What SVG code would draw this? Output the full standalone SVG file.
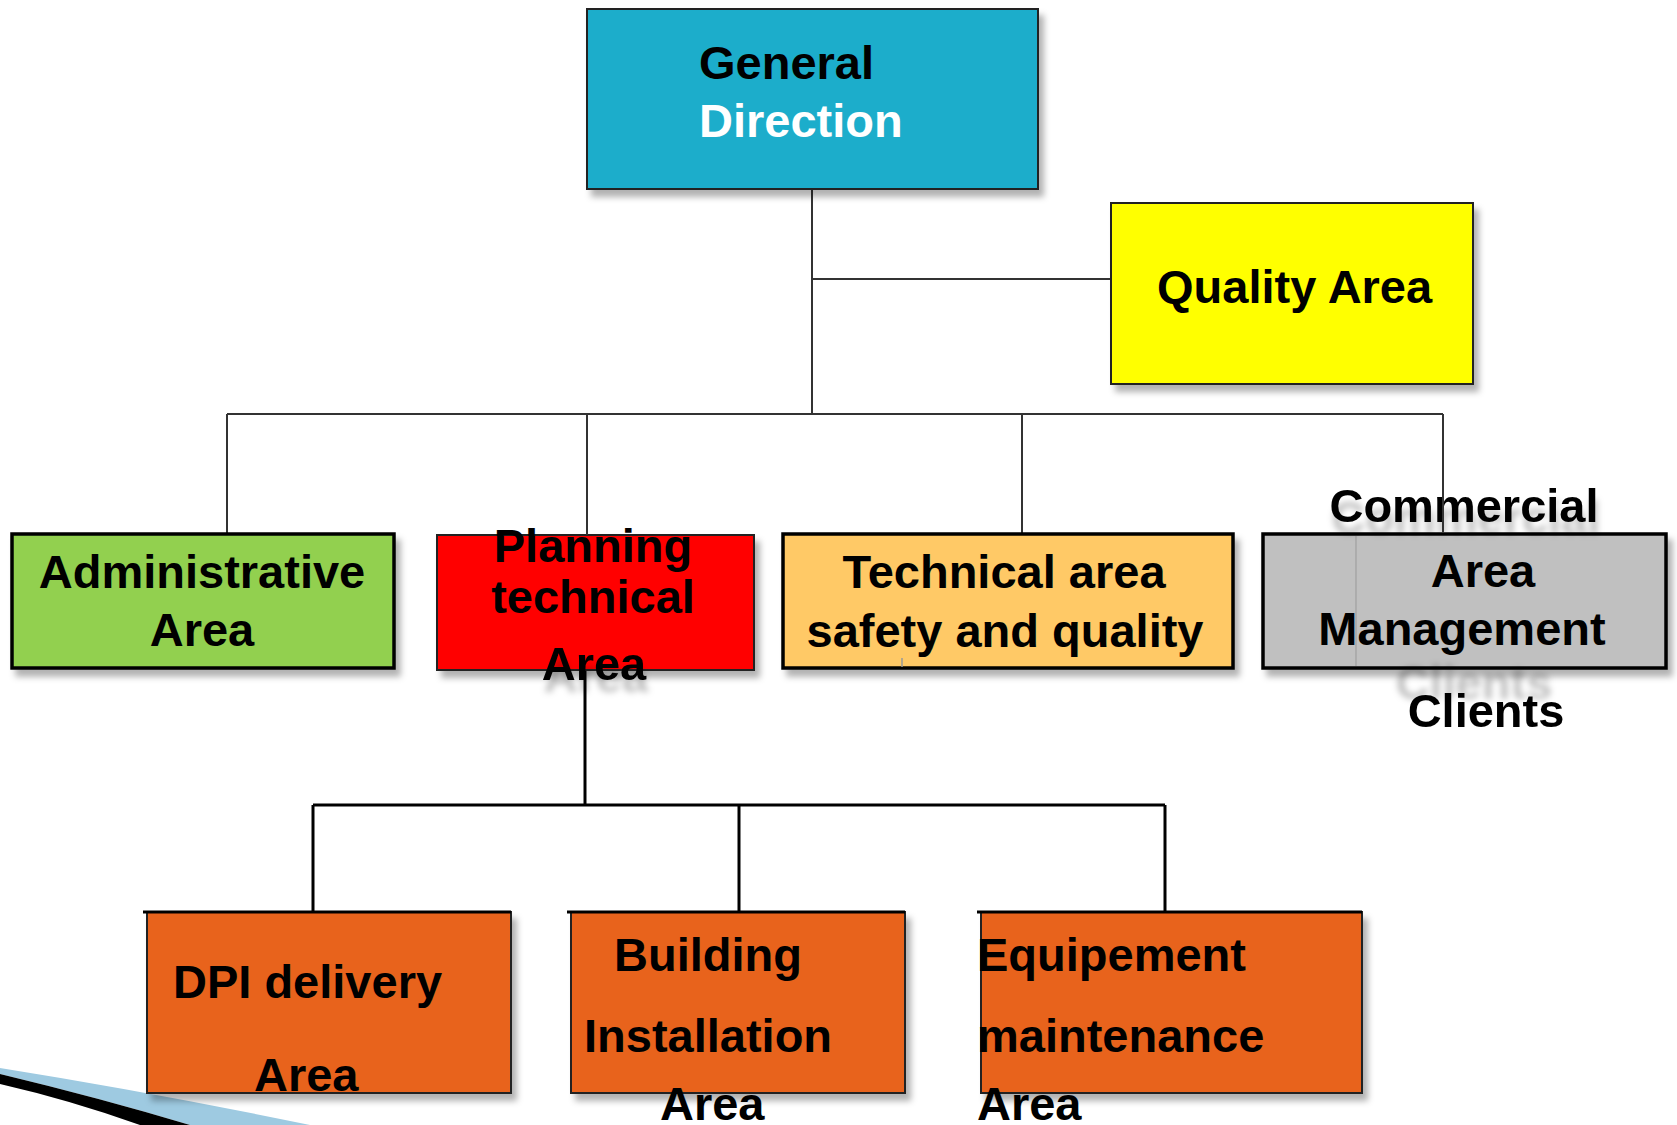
<svg xmlns="http://www.w3.org/2000/svg" width="1677" height="1125" viewBox="0 0 1677 1125">
<style>
.t{font-family:"Liberation Sans",Arial,sans-serif;font-weight:bold;font-size:47px;fill:#000}
.m{text-anchor:middle}
.w{fill:#fff}
.box{stroke:#222;stroke-width:2}
.thick{stroke:#000;stroke-width:3.5}
.ln{stroke:#333;stroke-width:2;fill:none}
.ln2{stroke:#000;stroke-width:3;fill:none}
</style>
<defs>
<filter id="sh" x="-10%" y="-10%" width="130%" height="130%">
<feDropShadow dx="5" dy="7" stdDeviation="3" flood-color="#000" flood-opacity="0.3"/>
</filter>
<filter id="tsd" x="-20%" y="-50%" width="140%" height="200%">
<feDropShadow dx="2" dy="12" stdDeviation="3" flood-color="#000" flood-opacity="0.25"/>
</filter>
<filter id="tsu" x="-20%" y="-80%" width="140%" height="200%">
<feDropShadow dx="-12" dy="-28" stdDeviation="3" flood-color="#000" flood-opacity="0.25"/>
</filter>
</defs>
<rect width="1677" height="1125" fill="#fff"/>

<g id="swoosh">
<path d="M0,1068 Q150,1092 310,1125 L190,1125 Q100,1098 0,1074 Z" fill="#9ECAE1"/>
<path d="M0,1074 Q100,1098 190,1125 L140,1125 Q70,1100 0,1084 Z" fill="#000"/>
</g>

<g id="connectors">
<path class="ln" d="M812,189 V414"/>
<path class="ln" d="M812,279 H1111"/>
<path class="ln" d="M227,414 H1443"/>
<path class="ln" d="M227,414 V533 M587,414 V535 M1022,414 V533"/>
<path class="ln2" d="M585,670 V805"/>
<path class="ln2" d="M313,805 H1165 M313,805 V912 M739,805 V912 M1165,805 V912"/>
</g>

<g id="general-direction">
<rect class="box" x="587" y="9" width="451" height="180" fill="#1FADCB" filter="url(#sh)"/>
<text class="t" x="699" y="79">General</text>
<text class="t w" x="699" y="137">Direction</text>
</g>

<g id="quality-area">
<rect class="box" x="1111" y="203" width="362" height="181" fill="#FFFF00" filter="url(#sh)"/>
<text class="t" x="1157" y="303">Quality Area</text>
</g>

<g id="administrative-area">
<rect class="thick" x="12" y="534" width="382" height="134" fill="#92D050" filter="url(#sh)"/>
<text class="t m" x="202" y="588">Administrative</text>
<text class="t m" x="202" y="646">Area</text>
</g>

<g id="planning-area">
<rect class="box" x="437" y="535" width="317" height="135" fill="#FF0000" filter="url(#sh)"/>
<line x1="587" y1="525" x2="587" y2="535" class="ln"/>
<text class="t m" x="593" y="562">Planning</text>
<text class="t m" x="593" y="613">technical</text>
<text class="t m" x="594" y="680" filter="url(#tsd)">Area</text>
</g>

<g id="technical-area">
<rect class="thick" x="783" y="534" width="450" height="134" fill="#FFC966" filter="url(#sh)"/>
<line x1="902" y1="658" x2="902" y2="667" stroke="#999" stroke-width="1.5"/>
<text class="t m" x="1004" y="588">Technical area</text>
<text class="t m" x="1005" y="647">safety and quality</text>
</g>

<g id="commercial-area">
<rect class="thick" x="1263" y="534" width="403" height="134" fill="#C0C0C0" filter="url(#sh)"/>
<line x1="1356" y1="536" x2="1356" y2="666" stroke="#999" stroke-width="1"/>
<text class="t m" x="1464" y="522" filter="url(#tsd)">Commercial</text>
<path class="ln" d="M1443,414 V533"/>
<text class="t m" x="1483" y="587">Area</text>
<text class="t m" x="1462" y="645">Management</text>
<text class="t m" x="1486" y="727" filter="url(#tsu)">Clients</text>
</g>

<g id="dpi-delivery">
<rect class="box" x="147" y="912" width="364" height="181" fill="#E8631F" filter="url(#sh)"/>
<line x1="143" y1="912" x2="511" y2="912" class="ln2"/>
<text class="t" x="173" y="998">DPI delivery</text>
<text class="t" x="254" y="1091">Area</text>
</g>

<g id="building-installation">
<rect class="box" x="571" y="912" width="334" height="181" fill="#E8631F" filter="url(#sh)"/>
<line x1="567" y1="912" x2="905" y2="912" class="ln2"/>
<text class="t" x="614" y="971">Building</text>
<text class="t" x="584" y="1052">Installation</text>
<text class="t" x="660" y="1120">Area</text>
</g>

<g id="equipement-maintenance">
<rect class="box" x="981" y="912" width="381" height="181" fill="#E8631F" filter="url(#sh)"/>
<line x1="977" y1="912" x2="1362" y2="912" class="ln2"/>
<text class="t" x="977" y="971">Equipement</text>
<text class="t" x="977" y="1052">maintenance</text>
<text class="t" x="977" y="1120">Area</text>
</g>
</svg>
